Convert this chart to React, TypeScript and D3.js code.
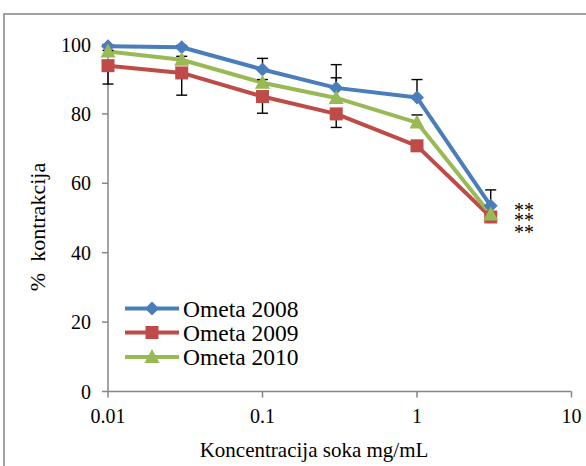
import React from "react";
import * as d3 from "d3";

const concentrations = [0.01, 0.03, 0.1, 0.3, 1, 3];
const seriesNames = ["Ometa 2008", "Ometa 2009", "Ometa 2010"];
const values2008 = [99.5, 99.2, 92.8, 87.5, 84.7, 53.5];
const values2009 = [93.9, 91.8, 85.0, 80.0, 70.8, 50.3];
const values2010 = [98.0, 95.6, 89.0, 84.6, 77.5, 51.0];
// one-sided error bars: 2008 plus, 2009 minus, 2010 plus
const err2008 = [0.3, 0.5, 3.2, 6.7, 5.2, 4.6];
const err2009 = [5.3, 6.4, 4.8, 3.9, 0.5, 0.5];
const err2010 = [0.3, 1.0, 0.9, 5.8, 2.2, 0.5];
const errDirection = [1, -1, 1];
const xTicks = [0.01, 0.1, 1, 10];
const xTickLabels = ["0.01", "0.1", "1", "10"];
const yTicks = [0, 20, 40, 60, 80, 100];
const starRows = ["**", "**", "**"];

const colors = ["#4A7EBB", "#BE4B48", "#98B954"];
const FONT = '"Liberation Serif", "Times New Roman", "DejaVu Serif", serif';

const x = d3.scaleLog().domain([0.01, 10]).range([108, 571.5]);
const y = d3.scaleLinear().domain([0, 100]).range([391.5, 44.5]);

function Marker({ kind, cx, cy, color }: { kind: number; cx: number; cy: number; color: string }) {
  if (kind === 0) {
    const s = 7;
    return <path d={`M${cx},${cy - s}L${cx + s},${cy}L${cx},${cy + s}L${cx - s},${cy}Z`} fill={color} />;
  }
  if (kind === 1) {
    const s = 6.5;
    return <rect x={cx - s} y={cy - s} width={2 * s} height={2 * s} fill={color} />;
  }
  const w = 7.5;
  return <path d={`M${cx},${cy - 8}L${cx + w},${cy + 6}L${cx - w},${cy + 6}Z`} fill={color} />;
}

export default function App() {
  const allValues = [values2008, values2009, values2010];
  const allErrs = [err2008, err2009, err2010];
  const line = d3
    .line<number>()
    .x((_, i) => x(concentrations[i]))
    .y((v) => y(v));
  const axisColor = "#868686";
  const textStyle = { fontFamily: FONT, fill: "#000" } as React.CSSProperties;
  return (
    <svg width={586} height={466} style={{ position: "absolute", left: 0, top: 0, background: "#fff" }}>
      <rect x={4} y={14} width={600} height={480} fill="none" stroke="#8a8a8a" strokeWidth={1.6} />
      {/* axes */}
      <line x1={x(0.01)} x2={x(10)} y1={y(0)} y2={y(0)} stroke={axisColor} strokeWidth={1.5} />
      <line x1={x(0.01)} x2={x(0.01)} y1={y(0)} y2={y(100)} stroke={axisColor} strokeWidth={1.5} />
      {yTicks.map((t) => (
        <g key={"y" + t}>
          <line x1={x(0.01) - 6} x2={x(0.01)} y1={y(t)} y2={y(t)} stroke={axisColor} strokeWidth={1.5} />
          <text x={91} y={y(t) + 7} textAnchor="end" fontSize={20} style={textStyle}>
            {t}
          </text>
        </g>
      ))}
      {xTicks.map((t, i) => (
        <g key={"x" + t}>
          <line x1={x(t)} x2={x(t)} y1={y(0)} y2={y(0) + 6} stroke={axisColor} strokeWidth={1.5} />
          <text x={x(t)} y={423} textAnchor="middle" fontSize={20} style={textStyle}>
            {xTickLabels[i]}
          </text>
        </g>
      ))}
      <text x={314} y={457} textAnchor="middle" fontSize={21} style={textStyle}>
        Koncentracija soka mg/mL
      </text>
      <text
        transform={`translate(45,227) rotate(-90)`}
        textAnchor="middle"
        fontSize={22}
        style={{ ...textStyle, whiteSpace: "pre" }}
      >
        {"%  kontrakcija"}
      </text>
      {/* lines */}
      {allValues.map((vals, s) => (
        <path key={"l" + s} d={line(vals) || ""} fill="none" stroke={colors[s]} strokeWidth={4} strokeLinejoin="round" />
      ))}
      {/* error bars */}
      {allValues.map((vals, s) =>
        vals.map((v, i) => {
          const cx = x(concentrations[i]);
          const end = y(v + errDirection[s] * allErrs[s][i]);
          return (
            <g key={`e${s}-${i}`} stroke="#000" strokeWidth={1.4}>
              <line x1={cx} x2={cx} y1={y(v)} y2={end} />
              <line x1={cx - 5.5} x2={cx + 5.5} y1={end} y2={end} />
            </g>
          );
        })
      )}
      {/* markers */}
      {allValues.map((vals, s) =>
        vals.map((v, i) => <Marker key={`m${s}-${i}`} kind={s} cx={x(concentrations[i])} cy={y(v)} color={colors[s]} />)
      )}
      {/* significance stars */}
      <text fontSize={20} style={textStyle}>
        {starRows.map((st, i) => (
          <tspan key={"s" + i} x={514} y={[217, 226.5, 239][i]}>
            {st}
          </tspan>
        ))}
      </text>
      {/* legend */}
      {seriesNames.map((name, s) => {
        const ly = [308.5, 332.5, 357][s];
        return (
          <g key={"lg" + s}>
            <line x1={125} x2={179} y1={ly} y2={ly} stroke={colors[s]} strokeWidth={4} />
            <Marker kind={s} cx={152} cy={ly} color={colors[s]} />
            <text x={183} y={ly + 8} fontSize={23.5} style={textStyle}>
              {name}
            </text>
          </g>
        );
      })}
    </svg>
  );
}
